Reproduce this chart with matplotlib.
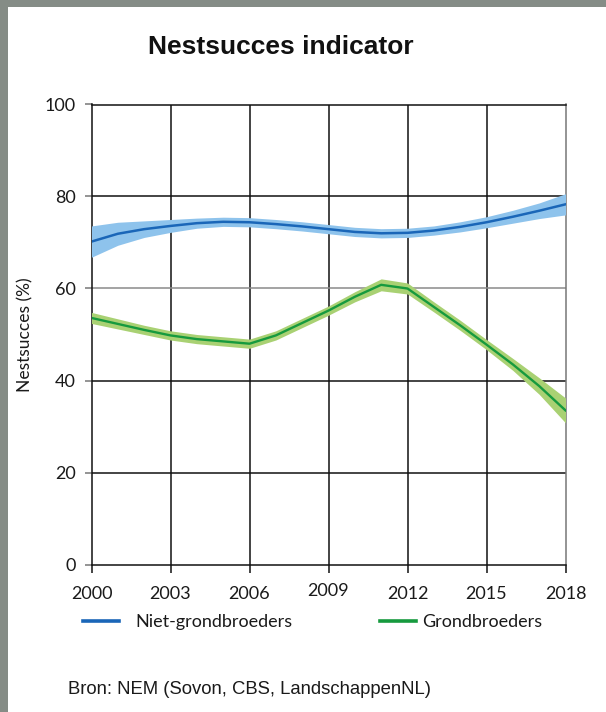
import matplotlib
matplotlib.use("Agg")
import matplotlib.pyplot as plt
from matplotlib.patches import Rectangle
import matplotlib.transforms as mtransforms
import numpy as np

years = [2000, 2001, 2002, 2003, 2004, 2005, 2006, 2007, 2008, 2009,
         2010, 2011, 2012, 2013, 2014, 2015, 2016, 2017, 2018]

niet_grond = [70.2, 71.9, 72.9, 73.6, 74.2, 74.5, 74.4, 74.0, 73.5, 72.9,
              72.3, 72.0, 72.1, 72.6, 73.4, 74.4, 75.6, 76.9, 78.3]
niet_grond_err = [3.4, 2.5, 1.8, 1.4, 1.1, 1.0, 1.0, 1.0, 1.0, 1.0,
                  1.0, 1.0, 1.0, 1.0, 1.1, 1.2, 1.4, 1.7, 2.3]

grond = [53.6, 52.3, 51.0, 49.8, 49.0, 48.5, 48.0, 49.8, 52.5, 55.2,
         58.2, 60.8, 60.0, 56.0, 52.0, 47.8, 43.5, 38.8, 33.5]
grond_err = [1.2, 1.1, 1.0, 1.0, 1.0, 1.0, 1.0, 1.0, 1.0, 1.0,
             1.1, 1.3, 1.2, 1.1, 1.1, 1.1, 1.3, 1.8, 2.7]

xticks = [2000, 2003, 2006, 2009, 2012, 2015, 2018]
yticks = [0, 20, 40, 60, 80, 100]

title = "Nestsucces indicator"
ylabel = "Nestsucces (%)"
labels = ["Niet-grondbroeders", "Grondbroeders"]
source = "Bron: NEM (Sovon, CBS, LandschappenNL)"

W, H = 606, 712
fig = plt.figure(figsize=(W / 100, H / 100), dpi=100, facecolor="#858c86")
fig.patches.append(Rectangle((8 / W, 0), 1 - 8 / W, 1 - 7 / H, transform=fig.transFigure,
                             facecolor="white", edgecolor="none", zorder=-5))

ax = fig.add_axes([91.5 / W, (H - 564.5) / H, 474 / W, 460 / H])
ax.set_zorder(2)
ax.set_facecolor("white")

y = np.array(years)
nb = np.array(niet_grond)
ne = np.array(niet_grond_err)
gb = np.array(grond)
ge = np.array(grond_err)

ax.fill_between(y, nb - ne, nb + ne, color="#8ec3ec", lw=0, zorder=3)
ax.fill_between(y, gb - ge, gb + ge, color="#a9d173", lw=0, zorder=3)
l1, = ax.plot(y, nb, color="#1a66b8", lw=1.8, zorder=4, label=labels[0])
l2, = ax.plot(y, gb, color="#169a3e", lw=1.7, zorder=4, label=labels[1])

ax.set_xlim(2000, 2018)
ax.set_ylim(0, 100)
ax.set_xticks(xticks)
ax.set_yticks(yticks)

for xv in xticks[1:-1]:
    ax.axvline(xv, color="#111111", lw=1.1, zorder=2)
for yv in yticks[1:-1]:
    ax.axhline(yv, color="#8a8a8a" if yv == 60 else "#111111", lw=1.1, zorder=2)

for s in ["left", "bottom", "top"]:
    ax.spines[s].set_color("#111111")
    ax.spines[s].set_linewidth(1.1)
ax.spines["right"].set_color("#777777")
ax.spines["right"].set_linewidth(1.1)

ax.tick_params(axis="x", length=6, width=1.1, color="#111111", pad=9.5, labelcolor="#1a1a1a")
ax.tick_params(axis="y", length=5, width=1.1, color="#777777", pad=6.5, labelcolor="#1a1a1a")
for lab in ax.get_xticklabels() + ax.get_yticklabels():
    lab.set_fontfamily("Lato")
    lab.set_fontsize(13)
# the 2009 label sits slightly higher in the original
for lab in ax.get_xticklabels():
    if lab.get_text() == "2009":
        lab.set_transform(lab.get_transform() +
                          mtransforms.ScaledTranslation(0, 3 / 100, fig.dpi_scale_trans))

ax.set_ylabel(ylabel, family="Lato", fontsize=12.5, color="#1a1a1a")
ax.yaxis.set_label_coords((33 - 91.5) / 474, 0.5)

fig.text(281 / W, 1 - 46.5 / H, title, ha="center", va="center",
         family="Liberation Sans", fontweight="bold", fontsize=19, color="#111111")

fig.text(68 / W, 1 - 690 / H, source, ha="left", va="center",
         family="Liberation Sans", fontsize=13.3, color="#1a1a1a")

leg_y = (564.5 - 622) / 460
common = dict(loc="center left", frameon=False, borderpad=0, borderaxespad=0,
              handlelength=2.0, prop=dict(family="Lato", size=13))
leg1 = ax.legend(handles=[l1], bbox_to_anchor=((83 - 91.5) / 474, leg_y),
                 handletextpad=0.88, **common)
ax.add_artist(leg1)
leg2 = ax.legend(handles=[l2], bbox_to_anchor=((380 - 91.5) / 474, leg_y),
                 handletextpad=0.33, **common)
for leg in (leg1, leg2):
    for t in leg.get_texts():
        t.set_color("#1a1a1a")
    for h in leg.legend_handles:
        h.set_linewidth(2.6)

fig.savefig("out.png", dpi=100, facecolor=fig.get_facecolor())
